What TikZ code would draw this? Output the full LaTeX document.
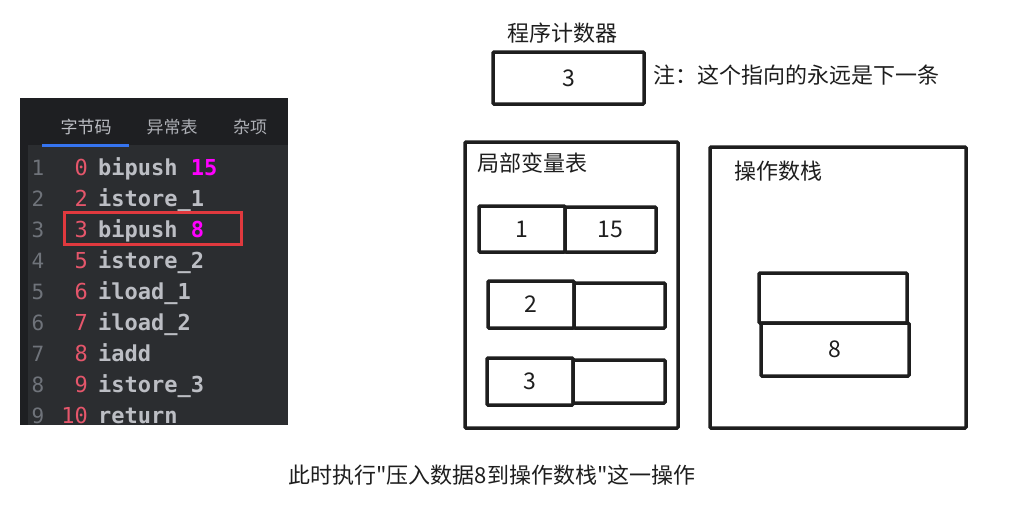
\documentclass[tikz,border=0pt]{standalone}
\usepackage{fontspec}
\newfontfamily\cjk{Noto Sans CJK SC}
\newfontfamily\codefont{DejaVu Sans Mono}
\newfontfamily\codebold{DejaVu Sans Mono Bold}
\definecolor{paneldark}{HTML}{1E1F22}
\definecolor{panelcode}{HTML}{2B2D30}
\definecolor{tabblue}{HTML}{3574F0}
\definecolor{lineno}{HTML}{6F737A}
\definecolor{offset}{HTML}{E5566B}
\definecolor{instr}{HTML}{BCBEC4}
\definecolor{argmag}{HTML}{FF00FF}
\definecolor{markred}{HTML}{E0393E}
\definecolor{ink}{HTML}{1E1E1E}
\tikzset{
  cell/.style={draw=ink, line width=3.5pt, rounded corners=1pt, inner sep=0pt,
    font=\cjk\fontsize{23}{23}\selectfont, text=ink},
  frame/.style={cell},
  label/.style={inner sep=0pt, font=\cjk\fontsize{22}{22}\selectfont, text=ink},
  tab/.style={inner sep=0pt, font=\cjk\fontsize{17}{17}\selectfont, text=instr!80!lineno},
}
\begin{document}
\begin{tikzpicture}[x=1pt,y=-1pt]
  \useasboundingbox[fill=white] (0,0) rectangle (1033,509);

  % bytecode panel
  \fill[paneldark] (20,98) rectangle (288,425);
  \fill[panelcode] (28,145) rectangle (288,425);
  \node[tab, text=instr] (tabcode) at (86,127) {字节码};
  \node[tab] (tabexc) at (172,127) {异常表};
  \node[tab] (tabmisc) at (250,127) {杂项};
  \draw[tabblue, line width=3pt] (42,145) -- (129,145);

  \foreach \n/\o/\ins/\arg [count=\i] in {1/0/bipush/15, 2/2/istore\_1/, 3/3/bipush/8,
      4/5/istore\_2/, 5/6/iload\_1/, 6/7/iload\_2/, 7/8/iadd/, 8/9/istore\_3/, 9/10/return/} {
    \pgfmathsetmacro\yb{144+31*\i}
    \node[anchor=base, inner sep=0pt, text=lineno, font=\codefont\fontsize{21}{21}\selectfont]
      (ln\i) at (38,\yb) {\n};
    \node[anchor=base east, inner sep=0pt, text=offset, font=\codefont\fontsize{22}{22}\selectfont]
      (off\i) at (88,\yb) {\o};
    \node[anchor=base west, inner sep=0pt, text=instr, font=\codebold\fontsize{22}{22}\selectfont]
      (ins\i) at (98,\yb) {\ins\ \textcolor{argmag}{\arg}};
  }
  % current instruction
  \node[draw=markred, line width=3pt, minimum width=177pt, minimum height=32pt, inner sep=0pt]
    (current) at (152.5,228) {};

  % program counter
  \node[label] (pctitle) at (562,33) {程序计数器};
  \node[cell, minimum width=151pt, minimum height=52pt] (pc) at (568.5,78) {3};
  \node[label, anchor=west] (pcnote) at (653,75) {注：这个指向的永远是下一条};

  % local variable table
  \node[frame, minimum width=213pt, minimum height=286pt] (lvt) at (571.5,285) {};
  \node[label, anchor=west] (lvttitle) at (477,163) {局部变量表};
  \node[cell, minimum width=86pt, minimum height=46pt] (slot1) at (522,229) {1};
  \node[cell, minimum width=91pt, minimum height=45pt] (val1) at (610.5,229.5) {15};
  \node[cell, minimum width=86pt, minimum height=47pt] (slot2) at (531,304.5) {2};
  \node[cell, minimum width=91pt, minimum height=45pt] (val2) at (619.5,305.5) {};
  \node[cell, minimum width=86pt, minimum height=47pt] (slot3) at (530,381.5) {3};
  \node[cell, minimum width=92pt, minimum height=43pt] (val3) at (619,381.5) {};

  % operand stack
  \node[frame, minimum width=256pt, minimum height=281pt] (stack) at (838,287.5) {};
  \node[label, anchor=west] (stacktitle) at (734,171) {操作数栈};
  \node[cell, minimum width=148pt, minimum height=50pt] (top) at (833,298) {};
  \node[cell, minimum width=148pt, minimum height=53pt] (bottom) at (835,349.5) {8};

  \node[label] (caption) at (492,475) {此时执行"压入数据8到操作数栈"这一操作};
\end{tikzpicture}
\end{document}
